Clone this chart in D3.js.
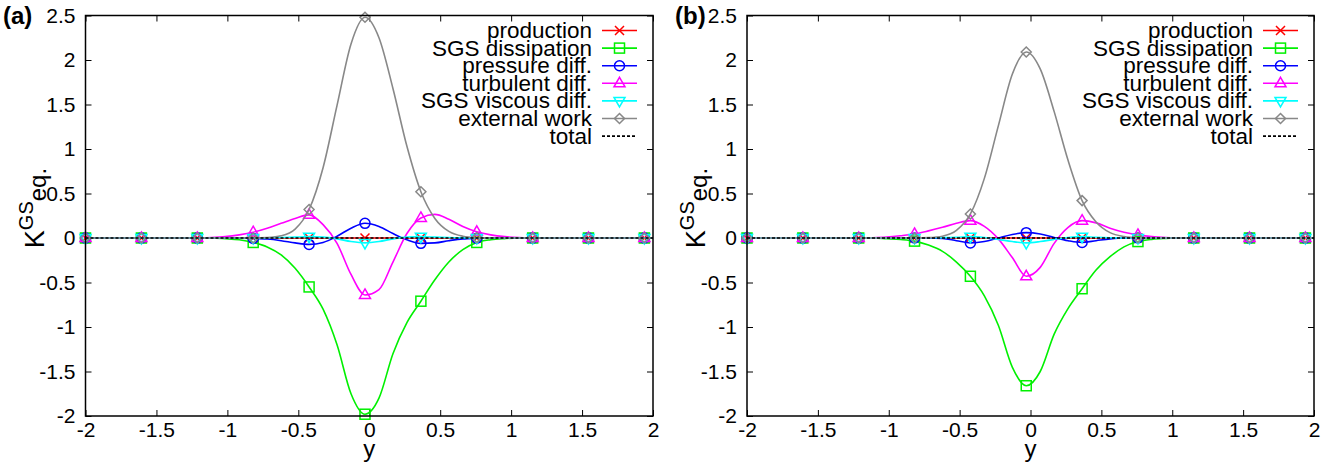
<!DOCTYPE html>
<html><head><meta charset="utf-8">
<script src="https://cdn.jsdelivr.net/npm/d3@7"></script>
<style>
body{margin:0;background:#fff}
text{font-family:"Liberation Sans",Arial,Helvetica,sans-serif;fill:#000}
</style>
</head><body>
<svg id="chart" width="1340" height="467"></svg>
<script>
// ---------- data ----------
const xs = [-2, -1.606, -1.212, -1.1135, -1.015, -0.9165, -0.818, -0.7195, -0.621, -0.5225, -0.424, -0.3255, -0.227, -0.1285, -0.03,
            0.0685, 0.167, 0.2655, 0.364, 0.4625, 0.561, 0.6595, 0.758, 0.8565, 0.955, 1.0535, 1.152, 1.545, 1.939, 2];
const markerXs = [-2, -1.606, -1.212, -0.818, -0.424, -0.03, 0.364, 0.758, 1.152, 1.545, 1.939];

const seriesNames = ["production", "SGS dissipation", "pressure diff.", "turbulent diff.", "SGS viscous diff.", "external work", "total"];
const seriesColors = ["#ff0000", "#00f000", "#0000ff", "#ff00ff", "#00ffff", "#888888", "#000000"];
const seriesMarkers = ["cross", "square", "circle", "tri", "tridown", "diamond", null];

// panel (a)
const aProduction = [0,0,0,0,0,0,0,0,0,0,0,0,0,0,0, 0,0,0,0,0,0,0,0,0,0,0,0,0,0,0];
const aSgsDiss    = [0,0,0,0,-0.008,-0.02,-0.05,-0.10,-0.19,-0.34,-0.55,-0.80,-1.20,-1.75,-1.98, -1.80,-1.30,-0.95,-0.71,-0.47,-0.27,-0.13,-0.05,-0.02,-0.007,0,0,0,0,0];
const aPressure   = [0,0,0,0,0,-0.002,-0.005,-0.012,-0.03,-0.055,-0.072,-0.05,0.02,0.11,0.165, 0.13,0.05,-0.02,-0.06,-0.055,-0.03,-0.01,-0.003,0,0,0,0,0,0,0];
const aTurb       = [0,0,0,0.005,0.015,0.035,0.065,0.11,0.165,0.22,0.26,0.15,-0.06,-0.41,-0.64, -0.58,-0.27,0.05,0.225,0.265,0.21,0.13,0.07,0.035,0.015,0.005,0,0,0,0];
const aSgsVisc    = [0,0,0,0,0,0,0,0.002,0.005,0.01,0.015,0.01,-0.01,-0.04,-0.055, -0.04,-0.01,0.01,0.015,0.01,0.005,0.002,0,0,0,0,0,0,0,0];
const aExtWork    = [0,0,0,0,0,0,0,0.005,0.025,0.10,0.32,0.79,1.49,2.18,2.48, 2.25,1.68,1.03,0.52,0.22,0.074,0.02,0.004,0,0,0,0,0,0,0];
const aTotal      = [0,0,0,0,0,0,0,0,0,0,0,0,0,0,0, 0,0,0,0,0,0,0,0,0,0,0,0,0,0,0];

// panel (b)
const bProduction = [0,0,0,0,0,0,0,0,0,0,0,0,0,0,0, 0,0,0,0,0,0,0,0,0,0,0,0,0,0,0];
const bSgsDiss    = [0,0,0,0,-0.008,-0.017,-0.035,-0.08,-0.15,-0.27,-0.43,-0.65,-0.98,-1.45,-1.66, -1.50,-1.08,-0.79,-0.57,-0.36,-0.21,-0.10,-0.04,-0.015,-0.005,0,0,0,0,0];
const bPressure   = [0,0,0,0,0,0,0,0,-0.005,-0.03,-0.055,-0.04,0.0,0.04,0.06, 0.045,0.005,-0.03,-0.05,-0.03,-0.01,0,0,0,0,0,0,0,0,0];
const bTurb       = [0,0,0,0.003,0.01,0.025,0.045,0.08,0.12,0.165,0.195,0.13,-0.01,-0.22,-0.43, -0.33,-0.06,0.12,0.195,0.17,0.11,0.065,0.035,0.015,0.005,0,0,0,0,0];
const bSgsVisc    = [0,0,0,0,0,0,0,0.002,0.004,0.008,0.015,0.005,-0.015,-0.04,-0.055, -0.04,-0.015,0.005,0.015,0.008,0.003,0,0,0,0,0,0,0,0,0];
const bExtWork    = [0,0,0,0,0,0,0,0.004,0.02,0.085,0.27,0.67,1.26,1.84,2.09, 1.90,1.42,0.87,0.42,0.18,0.06,0.017,0.003,0,0,0,0,0,0,0];
const bTotal      = [0,0,0,0,0,0,0,0,0,0,0,0,0,0,0, 0,0,0,0,0,0,0,0,0,0,0,0,0,0,0];

const xTicks = [-2, -1.5, -1, -0.5, 0, 0.5, 1, 1.5, 2];
const yTicks = [-2, -1.5, -1, -0.5, 0, 0.5, 1, 1.5, 2, 2.5];
const panelLabels = ["(a)", "(b)"];

// ---------- layout ----------
const svg = d3.select("#chart");
const plotTop = 15.5, plotBottom = 416;
const panels = [
  {label: panelLabels[0], left: 85.5, right: 653, series: [aProduction, aSgsDiss, aPressure, aTurb, aSgsVisc, aExtWork, aTotal], labelX: 3},
  {label: panelLabels[1], left: 747, right: 1314, series: [bProduction, bSgsDiss, bPressure, bTurb, bSgsVisc, bExtWork, bTotal], labelX: 675}
];

function drawMarker(g, type, cx, cy, color) {
  const s = g.append("g").attr("transform", `translate(${cx},${cy})`)
    .attr("fill", "none").attr("stroke", color).attr("stroke-width", 1.5);
  if (type === "cross") {
    s.append("path").attr("d", "M-4.5,-4.5L4.5,4.5M-4.5,4.5L4.5,-4.5");
  } else if (type === "square") {
    s.append("rect").attr("x", -5).attr("y", -5).attr("width", 10).attr("height", 10);
  } else if (type === "circle") {
    s.append("circle").attr("r", 5);
  } else if (type === "tri") {
    s.append("path").attr("d", "M0,-6L5.5,3.5L-5.5,3.5Z");
  } else if (type === "tridown") {
    s.append("path").attr("d", "M0,6L5.5,-3.5L-5.5,-3.5Z");
  } else if (type === "diamond") {
    s.append("path").attr("d", "M0,-5L5,0L0,5L-5,0Z");
  }
}

panels.forEach(p => {
  const x = d3.scaleLinear().domain([-2, 2]).range([p.left, p.right]);
  const y = d3.scaleLinear().domain([-2, 2.5]).range([plotBottom, plotTop]);
  const g = svg.append("g");

  const fmt = d => String(d);
  const ax = [
    g.append("g").attr("transform", `translate(0,${plotBottom})`).call(d3.axisBottom(x).tickValues(xTicks).tickFormat(fmt).tickSize(-6).tickPadding(6)),
    g.append("g").attr("transform", `translate(0,${plotTop})`).call(d3.axisTop(x).tickValues(xTicks).tickFormat("").tickSize(-6)),
    g.append("g").attr("transform", `translate(${p.left},0)`).call(d3.axisLeft(y).tickValues(yTicks).tickFormat(fmt).tickSize(-6).tickPadding(10)),
    g.append("g").attr("transform", `translate(${p.right},0)`).call(d3.axisRight(y).tickValues(yTicks).tickFormat("").tickSize(-6))
  ];
  ax.forEach(a => {
    a.select(".domain").remove();
    a.selectAll(".tick line").attr("stroke", "#000").attr("stroke-width", 1);
    a.selectAll("text").attr("font-size", 21).attr("font-family", '"Liberation Sans",Arial,sans-serif').attr("fill", "#000");
  });

  const line = d3.line().x(d => x(d[0])).y(d => y(d[1])).curve(d3.curveMonotoneX);
  p.series.forEach((vals, i) => {
    const pts = xs.map((xv, k) => [xv, vals[k]]);
    g.append("path").attr("d", line(pts)).attr("fill", "none")
      .attr("stroke", seriesColors[i]).attr("stroke-width", 1.6)
      .attr("stroke-dasharray", seriesMarkers[i] ? null : "3,2");
    if (seriesMarkers[i]) {
      markerXs.forEach(mx => {
        const k = xs.indexOf(mx);
        drawMarker(g, seriesMarkers[i], x(xs[k]), y(vals[k]), seriesColors[i]);
      });
    }
  });

  g.append("rect").attr("x", p.left).attr("y", plotTop).attr("width", p.right - p.left).attr("height", plotBottom - plotTop)
    .attr("fill", "none").attr("stroke", "#000").attr("stroke-width", 1.5);

  const lg = g.append("g");
  seriesNames.forEach((name, i) => {
    const cy = plotTop + 15 + i * 17.6;
    lg.append("text").attr("x", p.right - 61).attr("y", cy + 7.5).attr("text-anchor", "end")
      .attr("font-size", 22.5).text(name);
    lg.append("line").attr("x1", p.right - 51).attr("x2", p.right - 16).attr("y1", cy).attr("y2", cy)
      .attr("stroke", seriesColors[i]).attr("stroke-width", 1.6)
      .attr("stroke-dasharray", seriesMarkers[i] ? null : "3,2");
    if (seriesMarkers[i]) drawMarker(lg, seriesMarkers[i], p.right - 33.5, cy, seriesColors[i]);
  });

  g.append("text").attr("x", (p.left + p.right) / 2).attr("y", 457).attr("text-anchor", "middle")
    .attr("font-size", 24).text("y");
  const yl = g.append("text").attr("transform", `translate(${p.left - 42},208) rotate(-90)`).attr("text-anchor", "middle");
  yl.append("tspan").attr("font-size", 27).text("K");
  yl.append("tspan").attr("font-size", 20).attr("dy", -11).text("GS");
  yl.append("tspan").attr("font-size", 24).attr("dy", 13).text("eq.");

  g.append("text").attr("x", p.labelX).attr("y", 24).attr("font-size", 24).attr("font-weight", "bold").text(p.label);
});
</script>
</body></html>
